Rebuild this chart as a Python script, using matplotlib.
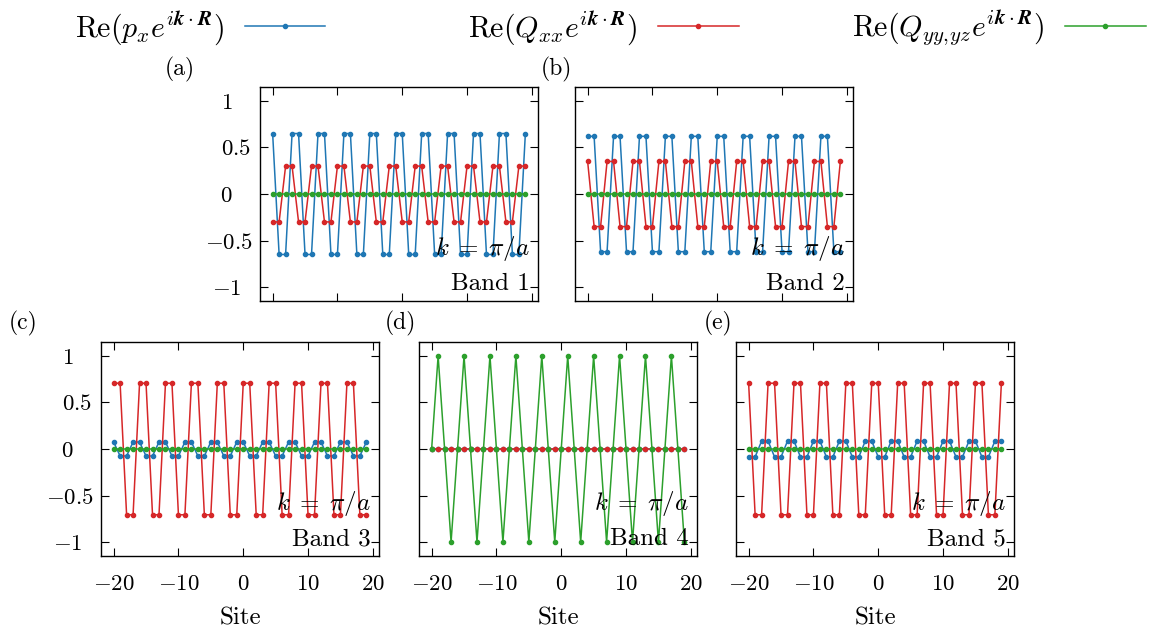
import matplotlib
matplotlib.use("Agg")
import matplotlib.pyplot as plt
import matplotlib.transforms as mtransforms

plt.rcParams['font.family'] = 'serif'
plt.rcParams['font.serif'] = ['cmr10']
plt.rcParams['mathtext.fontset'] = 'cm'
plt.rcParams['axes.formatter.use_mathtext'] = True
plt.rcParams['axes.unicode_minus'] = True

# Site index
sites = list(range(-20, 20))

# Band 1
a_px = [0.65, -0.65, -0.65, 0.65, 0.65, -0.65, -0.65, 0.65, 0.65, -0.65,
        -0.65, 0.65, 0.65, -0.65, -0.65, 0.65, 0.65, -0.65, -0.65, 0.65,
        0.65, -0.65, -0.65, 0.65, 0.65, -0.65, -0.65, 0.65, 0.65, -0.65,
        -0.65, 0.65, 0.65, -0.65, -0.65, 0.65, 0.65, -0.65, -0.65, 0.65]
a_qxx = [-0.3, -0.3, 0.3, 0.3, -0.3, -0.3, 0.3, 0.3, -0.3, -0.3,
         0.3, 0.3, -0.3, -0.3, 0.3, 0.3, -0.3, -0.3, 0.3, 0.3,
         -0.3, -0.3, 0.3, 0.3, -0.3, -0.3, 0.3, 0.3, -0.3, -0.3,
         0.3, 0.3, -0.3, -0.3, 0.3, 0.3, -0.3, -0.3, 0.3, 0.3]
a_qyy = [0.0] * 40

# Band 2
b_px = [0.62, 0.62, -0.62, -0.62, 0.62, 0.62, -0.62, -0.62, 0.62, 0.62,
        -0.62, -0.62, 0.62, 0.62, -0.62, -0.62, 0.62, 0.62, -0.62, -0.62,
        0.62, 0.62, -0.62, -0.62, 0.62, 0.62, -0.62, -0.62, 0.62, 0.62,
        -0.62, -0.62, 0.62, 0.62, -0.62, -0.62, 0.62, 0.62, -0.62, -0.62]
b_qxx = [0.35, -0.35, -0.35, 0.35, 0.35, -0.35, -0.35, 0.35, 0.35, -0.35,
         -0.35, 0.35, 0.35, -0.35, -0.35, 0.35, 0.35, -0.35, -0.35, 0.35,
         0.35, -0.35, -0.35, 0.35, 0.35, -0.35, -0.35, 0.35, 0.35, -0.35,
         -0.35, 0.35, 0.35, -0.35, -0.35, 0.35, 0.35, -0.35, -0.35, 0.35]
b_qyy = [0.0] * 40

# Band 3
c_px = [0.075, -0.075, -0.075, 0.075, 0.075, -0.075, -0.075, 0.075, 0.075, -0.075,
        -0.075, 0.075, 0.075, -0.075, -0.075, 0.075, 0.075, -0.075, -0.075, 0.075,
        0.075, -0.075, -0.075, 0.075, 0.075, -0.075, -0.075, 0.075, 0.075, -0.075,
        -0.075, 0.075, 0.075, -0.075, -0.075, 0.075, 0.075, -0.075, -0.075, 0.075]
c_qxx = [0.707, 0.707, -0.707, -0.707, 0.707, 0.707, -0.707, -0.707, 0.707, 0.707,
         -0.707, -0.707, 0.707, 0.707, -0.707, -0.707, 0.707, 0.707, -0.707, -0.707,
         0.707, 0.707, -0.707, -0.707, 0.707, 0.707, -0.707, -0.707, 0.707, 0.707,
         -0.707, -0.707, 0.707, 0.707, -0.707, -0.707, 0.707, 0.707, -0.707, -0.707]
c_qyy = [0.0] * 40

# Band 4
d_px = [0.0] * 40
d_qxx = [0.0] * 40
d_qyy = [0, 1, 0, -1, 0, 1, 0, -1, 0, 1,
         0, -1, 0, 1, 0, -1, 0, 1, 0, -1,
         0, 1, 0, -1, 0, 1, 0, -1, 0, 1,
         0, -1, 0, 1, 0, -1, 0, 1, 0, -1]

# Band 5
e_px = [-0.085, -0.085, 0.085, 0.085, -0.085, -0.085, 0.085, 0.085, -0.085, -0.085,
        0.085, 0.085, -0.085, -0.085, 0.085, 0.085, -0.085, -0.085, 0.085, 0.085,
        -0.085, -0.085, 0.085, 0.085, -0.085, -0.085, 0.085, 0.085, -0.085, -0.085,
        0.085, 0.085, -0.085, -0.085, 0.085, 0.085, -0.085, -0.085, 0.085, 0.085]
e_qxx = [0.707, -0.707, -0.707, 0.707, 0.707, -0.707, -0.707, 0.707, 0.707, -0.707,
         -0.707, 0.707, 0.707, -0.707, -0.707, 0.707, 0.707, -0.707, -0.707, 0.707,
         0.707, -0.707, -0.707, 0.707, 0.707, -0.707, -0.707, 0.707, 0.707, -0.707,
         -0.707, 0.707, 0.707, -0.707, -0.707, 0.707, 0.707, -0.707, -0.707, 0.707]
e_qyy = [0.0] * 40

bands = [(a_px, a_qxx, a_qyy), (b_px, b_qxx, b_qyy), (c_px, c_qxx, c_qyy),
         (d_px, d_qxx, d_qyy), (e_px, e_qxx, e_qyy)]
panel_tags = ['(a)', '(b)', '(c)', '(d)', '(e)']
series_labels = [r'$\mathrm{Re}(p_x e^{i\boldsymbol{k}\cdot\boldsymbol{R}})$',
                 r'$\mathrm{Re}(Q_{xx} e^{i\boldsymbol{k}\cdot\boldsymbol{R}})$',
                 r'$\mathrm{Re}(Q_{yy,\!yz} e^{i\boldsymbol{k}\cdot\boldsymbol{R}})$']
colors = ['#1f77b4', '#d62728', '#2ca02c']
yticks = [-1, -0.5, 0, 0.5, 1]
ytick_labels = [r'$-1$', r'$-0.5$', r'$0$', r'$0.5$', r'$1$']

W, H = 1162, 629
fig = plt.figure(figsize=(W / 100, H / 100), dpi=100)

# axes boxes in pixels: left, top
boxes = [(260, 87), (575, 87), (101, 342), (419, 342), (736, 342)]
bw, bh = 278, 214
tag_pos = [(180, 69), (556, 69), (23, 323), (400, 323), (718, 323)]

axes = []
for i, (left, top) in enumerate(boxes):
    ax = fig.add_axes([left / W, 1 - (top + bh) / H, bw / W, bh / H])
    axes.append(ax)
    for vals, col, lab in zip(bands[i], colors, series_labels):
        ax.plot(sites, vals, '-o', color=col, lw=1.1, ms=3, label=lab)
    ax.set_ylim(-1.15, 1.15)
    ax.set_xticks([-20, -10, 0, 10, 20])
    ax.set_yticks(yticks)
    ax.tick_params(direction='in', top=True, right=True, length=5.5, width=0.8,
                   labelsize=16.5)
    ax.tick_params(axis='x', pad=13)
    ax.tick_params(axis='y', pad=24)
    for sp in ax.spines.values():
        sp.set_linewidth(1.0)
    if i in (0, 2):
        ax.set_yticklabels(ytick_labels, ha='center')
        # nudge decimal labels a bit to the right like the original
        for lab in ax.get_yticklabels():
            if '.' in lab.get_text():
                shift = 0.09 if lab.get_text().startswith('$0') else 0.02
                lab.set_transform(lab.get_transform() + mtransforms.ScaledTranslation(
                    shift, 0, fig.dpi_scale_trans))
    else:
        ax.set_yticklabels([])
    if i < 2:
        ax.set_xticklabels([])
    else:
        ax.set_xlabel('Site', fontsize=18, labelpad=10)
    ax.text(0.97, 0.215, r'$k\;=\;\pi/a$', transform=ax.transAxes, ha='right',
            va='baseline', fontsize=18)
    ax.text(0.97, 0.05, 'Band %d' % (i + 1), transform=ax.transAxes, ha='right',
            va='baseline', fontsize=18)
    fig.text(tag_pos[i][0] / W, 1 - tag_pos[i][1] / H, panel_tags[i],
             ha='center', va='center', fontsize=17)

handles = axes[0].get_lines()
legend_x = [75, 468, 852]
for h, x in zip(handles, legend_x):
    fig.legend([h], [h.get_label()], loc='center left',
               bbox_to_anchor=(x / W, 1 - 28 / H), frameon=False,
               markerfirst=False, fontsize=21.5, handlelength=2.7,
               handletextpad=0.7, borderpad=0, borderaxespad=0, numpoints=1)

fig.savefig('out.png', dpi=100)
